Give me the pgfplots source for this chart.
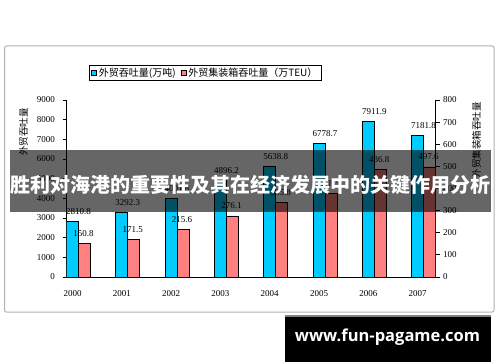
\documentclass[border=0pt]{standalone}
\usepackage{fontspec}
\setmainfont{Liberation Serif}
\newfontfamily\cjk{Noto Sans CJK SC}
\newfontfamily\wm{Open Sans}
\usepackage{pgfplots}
\pgfplotsset{compat=1.18}
\definecolor{cyanbar}{RGB}{0,204,255}
\definecolor{redbar}{RGB}{255,128,128}
\pgfplotstableread{
x y label
0 2810.8 2810.8
1 3292.3 3292.3
2 4001.8 4001.8
3 4896.2 4896.2
4 5638.8 5638.8
5 6778.7 6778.7
6 7911.9 7911.9
7 7181.8 7181.8
}\cargo
\pgfplotstableread{
x y label
0 150.8 150.8
1 171.5 171.5
2 215.6 215.6
3 276.1 276.1
4 335.8 335.8
5 378.5 378.5
6 486.8 486.8
7 497.6 497.6
}\teu
\begin{document}
\begin{tikzpicture}[x=1pt,y=1pt]
\useasboundingbox (0,0) rectangle (500,362);
\fill[white] (0,0) rectangle (500,362);
\draw[gray!60, line width=1pt, rounded corners=2pt] (4.5,50) rectangle (494,316);
\pgfplotsset{
  common/.style={
    at={(66.5pt,85pt)}, anchor=south west,
    scale only axis, width=369.1pt, height=177pt,
    xmin=-0.2434, xmax=7.2434,
    axis line style={-, line width=0.8pt},
    tick align=outside, major tick length=4pt,
    tick style={line width=0.8pt, black},
    tick label style={font=\fontsize{9}{10}\selectfont},
    scaled y ticks=false,
    /pgf/number format/assume math mode=true,
    /pgf/number format/1000 sep={},
    point meta=explicit symbolic,
    nodes near coords,
    every node near coord/.append style={font=\fontsize{9}{10}\selectfont, inner sep=1pt, anchor=south, yshift=5.5pt},
    legend image code/.code={\draw[#1,/tikz/.cd,line width=0.6pt] (0pt,-2.5pt) rectangle (5pt,2.5pt);},
  }
}
\begin{axis}[common,
  ymin=0, ymax=9000,
  axis x line*=bottom, axis y line*=left,
  xtick={0,...,7}, xticklabels={2000,2001,2002,2003,2004,2005,2006,2007},
  x tick style={draw=none},
  xticklabel style={xshift=-6pt, yshift=-5.5pt},
  yticklabel style={xshift=-4pt},
  ytick={0,1000,...,9000},
  legend columns=2,
  legend cell align=left,
  legend style={at={(0.061,1.198)}, anchor=north west, draw=black, line width=0.6pt,
    inner xsep=2pt, inner ysep=0.5pt, font=\cjk\fontsize{10}{11}\selectfont,
    /tikz/every even column/.append style={column sep=3pt}},
]
\addplot[ybar, bar width=12pt, bar shift=-6pt, fill=cyanbar, draw=black, line width=0.7pt]
  table[x=x, y=y, meta=label] {\cargo};
\addlegendentry{外贸吞吐量(万吨)}
\addlegendimage{ybar, fill=redbar, draw=black}
\addlegendentry{外贸集装箱吞吐量（万TEU）}
\end{axis}
\begin{axis}[common,
  ymin=0, ymax=800,
  axis y line*=right, axis x line=none,
  ytick={0,100,...,800},
]
\addplot[ybar, bar width=12pt, bar shift=6pt, fill=redbar, draw=black, line width=0.7pt,
  every node near coord/.append style={xshift=5pt}]
  table[x=x, y=y, meta=label] {\teu};
\end{axis}
\node[rotate=90, font=\cjk\fontsize{9.5}{10}\selectfont] at (23.5,230) {外贸吞吐量};
\node[rotate=90, font=\cjk\fontsize{9.5}{10}\selectfont] at (476.5,222) {外贸集装箱吞吐量};
\fill[black, opacity=0.6] (10,150) rectangle (491,212);
\node[text=white, font=\cjk\bfseries\fontsize{20}{22}\selectfont, inner sep=0pt] at (250.5,177) {胜利对海港的重要性及其在经济发展中的关键作用分析};
\fill[black] (285,0) rectangle (491,47);
\fill[gray] (285,45) rectangle (491,47);
\node[text=white, font=\wm\bfseries\fontsize{16.5}{18}\selectfont, inner sep=0pt] at (387.5,25.3) {www.fun-pagame.com};
\end{tikzpicture}
\end{document}
